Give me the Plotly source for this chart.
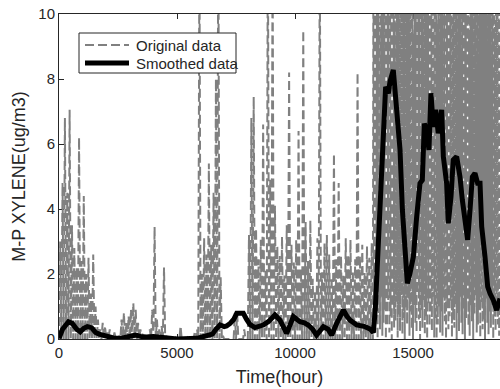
import plotly.graph_objects as go

# ---------------- data ----------------
# Original hourly series before the pollution episode, read as the
# peak value of every 100-hour block (0 h .. 13200 h)
early_bin = 100
early_peak = [
    3.0, 4.8, 6.8, 4.5, 7.05, 3.5, 2.8, 2.2, 6.2, 2.4,
    4.4, 2.0, 2.5, 1.4, 2.6, 1.0, 0.6, 0.3, 0.5, 0.4,
    0.2, 0.3, 0.1, 0.2, 0.05, 0.1, 0.6, 0.8, 0.5, 0.7,
    0.9, 1.1, 0.9, 0.5, 0.3, 0.2, 0.1, 0.1, 0.3, 0.9,
    3.45, 0.6, 0.3, 0.4, 2.2, 0.1, 0.05, 0.0, 0.0, 0.05,
    0.0, 0.4, 0.0, 0.0, 0.05, 0.0, 0.1, 0.2, 0.3, 12.3,
    2.0, 3.1, 2.6, 5.4, 2.9, 4.5, 8.0, 13.1, 1.9, 0.1,
    0.0, 0.0, 0.0, 0.0, 0.8, 0.8, 0.0, 0.0, 0.3, 0.0,
    3.2, 6.8, 7.45, 3.4, 2.45, 3.05, 6.6, 2.1, 12.7, 4.9,
    11.8, 4.1, 2.85, 2.55, 3.15, 1.95, 3.5, 8.2, 2.9, 2.35,
    3.05, 6.4, 2.15, 9.5, 3.6, 2.4, 3.65, 1.85, 1.5, 3.1,
    12.4, 2.05, 2.95, 3.2, 2.6, 1.9, 5.7, 2.45, 4.8, 2.55,
    1.95, 3.1, 2.6, 3.05, 2.1, 2.45, 8.2, 2.55, 2.9, 2.05,
    2.85, 2.5, 2.95,
]
# Episode (13300 h .. 18650 h): highest and lowest value of every 50-hour block
late_start = 13300
late_bin = 50
late_peak = [
    13.7, 11.2, 16.4, 12.9, 14.3, 9.6, 15.6, 13.1, 11.9, 17.2,
    12.4, 14.8, 10.5, 16.1, 13.4, 11.6, 15.2, 12.7, 9.8, 17.8,
    11.4, 13.9, 15.9, 12.2, 10.9, 16.7, 14.6, 12.1, 13.3, 15.4,
    11.1, 14.4, 16.9, 12.6, 9.4, 10.7, 15.1, 14.2, 11.7, 16.3,
    12.8, 13.6, 15.7, 11.3, 14.9, 12.3, 17.1, 13.2, 10.6, 15.3,
    14.7, 12.5, 16.6, 13.5, 9.7, 11.8, 15.5, 12.0, 14.0, 16.2,
    10.4, 13.0, 17.5, 11.5, 14.5, 12.6, 15.8, 9.9, 13.6, 16.0,
    11.0, 14.1, 12.9, 17.3, 10.8, 15.0, 13.7, 11.9, 16.8, 12.2,
    14.6, 9.5, 15.9, 13.1, 11.4, 16.5, 12.7, 14.3, 10.2, 17.0,
    13.3, 11.6, 15.4, 12.4, 16.1, 14.8, 10.9, 13.8, 15.2, 11.2,
    16.7, 12.5, 14.2, 9.6, 15.6, 13.4, 11.7, 16.4,
]
late_low = [
    0.0, 0.6, 0.2, 1.1, 0.0, 0.8, 0.3, 1.3, 0.1, 0.5,
    0.9, 0.0, 0.4, 1.2, 0.2, 0.7, 0.0, 1.0, 0.35, 0.55,
    1.15, 0.05, 0.75, 0.25, 1.35, 0.15, 0.65, 0.0, 0.95, 0.45,
    1.25, 0.1, 0.85, 0.3, 0.0, 1.05, 0.5, 0.2, 1.4, 0.6,
    0.0, 0.9, 0.35, 1.2, 0.15, 0.7, 0.0, 1.1, 0.4, 0.8,
    0.25, 1.3, 0.05, 0.6, 0.0, 0.45, 1.0, 0.2, 0.85, 0.1,
    1.25, 0.55, 0.0, 0.95, 0.3, 0.7, 1.15, 0.05, 0.6, 0.35,
    1.05, 0.0, 0.8, 0.25, 1.3, 0.5, 0.15, 0.9, 0.0, 0.65,
    1.2, 0.4, 0.1, 1.0, 0.55, 0.0, 0.75, 1.35, 0.2, 0.45,
    0.9, 0.05, 1.1, 0.3, 0.6, 0.0, 1.25, 0.5, 0.15, 0.85,
    0.35, 1.05, 0.0, 0.7, 0.25, 1.15, 0.45, 0.1,
]

smooth_time = [
    0, 150, 400, 560, 750, 900, 1050, 1200, 1380, 1550,
    1700, 2000, 2300, 2600, 2900, 3250, 3450, 3700, 4000, 4300,
    4600, 5000, 5500, 5850, 6100, 6300, 6500, 6650, 6820, 7000,
    7100, 7250, 7400, 7530, 7700, 7810, 7950, 8090, 8300, 8500,
    8655, 8900, 9150, 9365, 9500, 9645, 9800, 9930, 10210, 10400,
    10560, 10750, 10915, 11050, 11200, 11400, 11555, 11765, 12050, 12200,
    12330, 12615, 12965, 13200, 13320, 13400, 13530, 13670, 13785, 13840,
    13955, 14025, 14165, 14235, 14380, 14450, 14550, 14660, 14760, 14870,
    15015, 15155, 15295, 15395, 15480, 15580, 15675, 15760, 15860, 15960,
    16070, 16215, 16285, 16425, 16495, 16610, 16705, 16850, 16990, 17090,
    17200, 17315, 17415, 17515, 17625, 17740, 17840, 17910, 18050, 18165,
    18265, 18400, 18545, 18686,
]
smooth_value = [
    0.02, 0.30, 0.53, 0.48, 0.30, 0.22, 0.33, 0.38, 0.35, 0.20,
    0.15, 0.07, 0.03, 0.02, 0.06, 0.12, 0.08, 0.06, 0.08, 0.07,
    0.03, 0.00, 0.00, 0.02, 0.07, 0.10, 0.15, 0.30, 0.43, 0.38,
    0.40, 0.48, 0.60, 0.79, 0.80, 0.79, 0.60, 0.45, 0.35, 0.40,
    0.43, 0.55, 0.74, 0.58, 0.40, 0.17, 0.45, 0.69, 0.53, 0.50,
    0.43, 0.30, 0.12, 0.25, 0.38, 0.30, 0.12, 0.48, 0.89, 0.70,
    0.58, 0.43, 0.38, 0.30, 0.20, 0.90, 2.94, 5.00, 6.53, 7.76,
    7.56, 7.92, 8.28, 7.56, 6.02, 5.82, 3.97, 2.43, 1.71, 2.02,
    2.53, 3.76, 4.79, 4.89, 6.63, 6.43, 5.82, 7.56, 6.53, 7.05,
    6.33, 7.05, 5.61, 4.79, 3.56, 4.38, 5.51, 5.61, 4.99, 4.28,
    3.56, 3.05, 3.97, 4.99, 5.10, 4.79, 4.79, 3.46, 2.53, 1.61,
    1.40, 1.20, 0.89, 1.25,
]

series_names = ["Original data", "Smoothed data"]
x_ticks = [0, 5000, 10000, 15000]
y_ticks = [0, 2, 4, 6, 8, 10]

# ---------------- build traces ----------------
orig_x, orig_y = [], []
for i, hi in enumerate(early_peak):
    t = i * early_bin
    orig_x += [t, t + early_bin / 2]
    orig_y += [0.0, hi]
for i, (lo, hi) in enumerate(zip(late_low, late_peak)):
    t = late_start + i * late_bin
    orig_x += [t, t + late_bin / 2]
    orig_y += [lo, hi]

TXT = "#262626"
GRAY = "#808080"
FONT = "Liberation Sans, Arial, Helvetica, sans-serif"
DASH = "9px,4px"

fig = go.Figure()
fig.add_trace(go.Scatter(
    x=orig_x, y=orig_y, mode="lines", name=series_names[0],
    line=dict(color=GRAY, width=2, dash=DASH), showlegend=False,
))
fig.add_trace(go.Scatter(
    x=smooth_time, y=smooth_value, mode="lines", name=series_names[1],
    line=dict(color="black", width=5), showlegend=False,
))

# ---- legend box drawn in plot-area (paper) coordinates ----
L, T, W, H = 59.0, 14.0, 441.0, 325.0
def px(xp):
    return (xp - L) / W
def py(yp):
    return (T + H - yp) / H

shapes = [
    dict(type="rect", xref="paper", yref="paper",
         x0=px(79), x1=px(236), y0=py(73), y1=py(33),
         line=dict(color=TXT, width=1), fillcolor="white", layer="above"),
    dict(type="line", xref="paper", yref="paper",
         x0=px(85), x1=px(129), y0=py(45), y1=py(45),
         line=dict(color=GRAY, width=2, dash=DASH), layer="above"),
    dict(type="line", xref="paper", yref="paper",
         x0=px(85), x1=px(129), y0=py(63), y1=py(63),
         line=dict(color="black", width=5), layer="above"),
]
annotations = [
    dict(text=series_names[0], xref="paper", yref="paper", x=px(134), y=py(45),
         xanchor="left", yanchor="middle", showarrow=False,
         font=dict(family=FONT, size=15, color=TXT)),
    dict(text=series_names[1], xref="paper", yref="paper", x=px(134), y=py(63),
         xanchor="left", yanchor="middle", showarrow=False,
         font=dict(family=FONT, size=15, color=TXT)),
]

fig.update_layout(
    width=500, height=389,
    margin=dict(l=59, r=0, t=14, b=50),
    paper_bgcolor="white", plot_bgcolor="white",
    font=dict(family=FONT, size=15, color=TXT),
    showlegend=False,
    shapes=shapes, annotations=annotations,
)
fig.update_xaxes(
    range=[0, 18686], tickvals=x_ticks, ticktext=[str(v) for v in x_ticks],
    ticks="inside", ticklen=5, tickcolor=TXT, tickwidth=1,
    showline=True, linecolor=TXT, linewidth=1, mirror="ticks",
    showgrid=False, zeroline=False, layer="below traces",
    title=dict(text="Time(hour)", standoff=10),
    automargin=False,
)
fig.update_yaxes(
    range=[0, 10], tickvals=y_ticks, ticktext=[str(v) for v in y_ticks],
    ticks="inside", ticklen=5, tickcolor=TXT, tickwidth=1,
    showline=True, linecolor=TXT, linewidth=1, mirror=False,
    showgrid=False, zeroline=False, layer="below traces",
    title=dict(text="M-P XYLENE(ug/m3)", standoff=8),
    automargin=False,
)

fig.write_html("out.html")
